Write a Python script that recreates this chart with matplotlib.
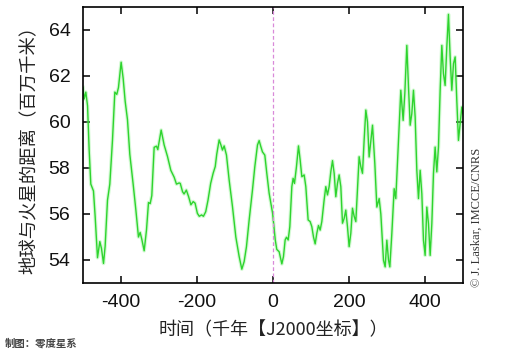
import matplotlib
matplotlib.use("Agg")
import matplotlib.pyplot as plt

plt.rcParams['axes.unicode_minus'] = False

# time (kyr, J2000) and Earth-Mars distance (million km)
years = [-500, -496.9, -492.5, -488, -483.8, -479.4, -472.4, -468, -461.8, -455.7,
         -451.3, -446, -441.7, -435.5, -429.4, -422.4, -416.2, -411, -406.6, -399.6,
         -394.3, -389, -382.9, -376.8, -368, -361, -354, -349.6, -345.2, -339,
         -332.9, -327.6, -323.2, -318.9, -312.7, -306.6, -303.1, -294.3, -286.4, -277.6,
         -268.9, -260.1, -254, -247, -244, -238, -234, -228, -222, -216,
         -210, -205, -199, -194, -188, -183, -177, -171, -164, -157.5,
         -152, -148, -141.7, -137, -133, -128.5, -122.4, -115.4, -106.6, -97.8,
         -89, -82, -75.9, -69.8, -62.7, -54, -47.8, -40.8, -36.4, -32,
         -27.7, -21.5, -16.3, -10.1, -4, -1, 6, 10, 16.2, 23.3,
         27.6, 32, 35.5, 40, 44.3, 49.6, 53, 56.6, 61.8, 67.1,
         71.5, 75.9, 82, 86.4, 92.5, 97.8, 102.2, 106.6, 111, 115.3,
         119.7, 124.1, 128.5, 134.6, 139, 143.4, 147.8, 152.2, 156.6, 161,
         165.3, 169.7, 174.1, 178.5, 182.9, 187.3, 191.6, 196, 200.4, 204.8,
         209.2, 213.6, 218, 222.3, 226.7, 231.1, 235.5, 239.9, 244.3, 248.7,
         253, 261.9, 268, 273.3, 279.4, 283.8, 290.8, 295.2, 299.6, 304,
         307.5, 312.7, 318.9, 323.2, 329.4, 336.4, 342.5, 346.9, 352.2, 356.6,
         361, 365.3, 369.7, 374.1, 378.5, 382.9, 387.3, 391.7, 396, 400.4,
         404.8, 409.2, 413.6, 418, 422.3, 426.7, 431.1, 435.5, 439.9, 444.3,
         448.6, 453, 457.4, 461.8, 466.2, 470.6, 475, 479.4, 483.7, 488.1,
         492.5, 496.9, 500]
distance = [61.5, 61.0, 61.3, 60.7, 58.8, 57.3, 57.0, 55.9, 54.1, 54.8,
            54.5, 53.85, 54.6, 56.6, 57.3, 59.2, 61.3, 61.2, 61.5, 62.6,
            61.9, 60.9, 60.1, 58.6, 57.3, 56.2, 55.0, 55.2, 54.9, 54.4,
            55.3, 56.5, 56.45, 56.8, 58.9, 58.95, 58.8, 59.65, 59.0, 58.5,
            57.9, 57.6, 57.3, 57.35, 57.33, 56.97, 56.87, 57.04, 56.75, 56.4,
            56.54, 56.47, 56.03, 55.9, 55.96, 55.9, 56.1, 56.6, 57.33, 57.77,
            58.06, 58.6, 59.22, 59.0, 58.78, 58.96, 58.56, 57.48, 56.32, 55.0,
            54.15, 53.6, 53.93, 54.58, 55.74, 57.04, 58.06, 59.0, 59.19, 58.93,
            58.7, 58.56, 57.77, 56.9, 56.3, 56.03, 54.87, 54.46, 54.36, 53.83,
            54.15, 54.87, 54.99, 54.87, 55.45, 57.19, 57.55, 57.33, 58.06, 58.96,
            58.35, 57.62, 57.7, 57.19, 55.74, 55.67, 55.45, 55.0, 54.7, 55.16,
            55.5, 55.3, 55.67, 56.61, 57.19, 56.83, 57.19, 57.84, 58.32, 57.77,
            56.75, 57.33, 57.7, 57.19, 55.6, 55.81, 56.17, 55.45, 54.58, 55.16,
            56.25, 55.9, 55.67, 57.04, 58.49, 58.06, 57.77, 59.22, 60.52, 60.0,
            58.48, 59.86, 58.19, 56.3, 56.67, 56.0, 53.99, 53.7, 54.86, 54.0,
            53.7, 55.14, 57.1, 56.67, 58.91, 61.38, 60.07, 61.23, 63.33, 61.52,
            59.86, 60.36, 61.38, 60.22, 57.9, 56.67, 57.9, 56.88, 54.86, 54.2,
            56.3, 55.58, 54.2, 55.58, 57.75, 58.91, 57.83, 58.91, 61.38, 63.33,
            62.1, 61.59, 63.26, 64.68, 62.83, 61.38, 62.54, 62.83, 60.94, 59.2,
            59.93, 60.65, 60.36]

xticks = [-400, -200, 0, 200, 400]
yticks = [54, 56, 58, 60, 62, 64]

cjk = ['Noto Sans CJK SC', 'DejaVu Sans']
num = ['Liberation Sans', 'DejaVu Sans']

fig = plt.figure(figsize=(5.18, 3.53), dpi=100)
ax = fig.add_axes([0.1602, 0.1983, 0.7336, 0.7819])

ax.plot(years, distance, color='#7ef07e', lw=2.6, alpha=0.35, solid_joinstyle='round')
ax.plot(years, distance, color='#2ed42e', lw=1.0, solid_joinstyle='round')
ax.axvline(0, color='#d98ad9', lw=0.9, ls=(0, (3, 2)))

ax.set_xlim(-500, 500)
ax.set_ylim(53, 65)
ax.set_xticks(xticks)
ax.set_yticks(yticks)
ax.set_xticklabels([str(v) for v in xticks], fontfamily=num, fontsize=14)
ax.set_yticklabels([str(v) for v in yticks], fontfamily=num, fontsize=14)
ax.tick_params(direction='in', length=5, width=1.1, top=True, right=True,
               color='black', labelcolor='#111111')
ax.tick_params(axis='x', pad=8)
ax.tick_params(axis='y', pad=9)
for s in ax.spines.values():
    s.set_linewidth(1.2)
    s.set_color('black')

ax.set_ylabel('地球与火星的距离（百万千米）', fontfamily=cjk, fontsize=13.2,
              color='#222222', labelpad=7)
ax.set_xlabel('时间（千年【J2000坐标】）', fontfamily=cjk, fontsize=13,
              color='#222222', labelpad=7)

fig.text(0.921, 0.187, '© J. Laskar, IMCCE/CNRS', rotation=90, fontsize=9,
         fontfamily=['Liberation Serif', 'DejaVu Serif'], color='#333333',
         ha='center', va='bottom')
fig.text(0.01, 0.028, '制图：零度星系', fontsize=7.5, fontfamily=cjk,
         color='#444444', ha='left', va='center', fontweight='bold')

fig.savefig('out.png', dpi=100)
